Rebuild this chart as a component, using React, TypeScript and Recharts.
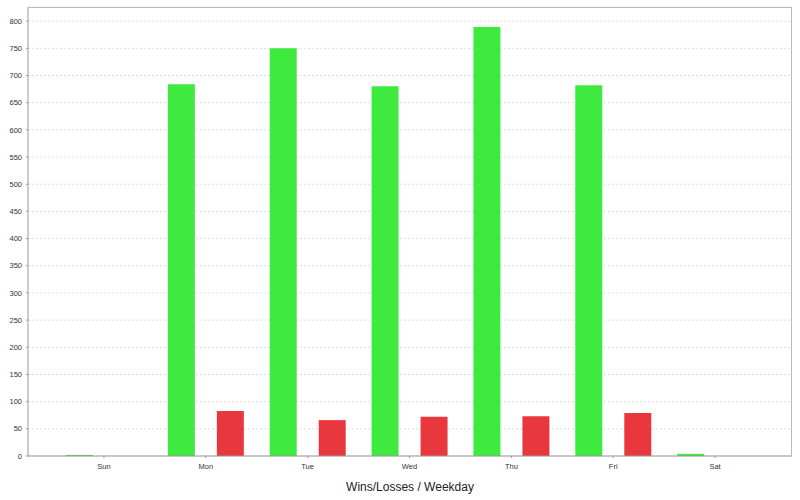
import { BarChart, Bar, XAxis, YAxis, CartesianGrid, Label } from 'recharts'

const days = ['Sun', 'Mon', 'Tue', 'Wed', 'Thu', 'Fri', 'Sat']
const wins = [2, 684, 750, 680, 789, 682, 4]
const losses = [0, 83, 66, 72, 73, 79, 0]
const yTicks = [0, 50, 100, 150, 200, 250, 300, 350, 400, 450, 500, 550, 600, 650, 700, 750, 800]

const data = days.map((day, i) => ({ day, wins: wins[i], losses: losses[i] }))

const tickStyle = { fontSize: 7.5, fill: '#333', fontFamily: '"Liberation Sans", Arial, sans-serif' }

export default function App() {
  return (
    <div style={{ position: 'absolute', left: 0, top: 0, width: 800, height: 500, background: '#fff' }}>
      <BarChart
        width={800}
        height={500}
        data={data}
        margin={{ top: 7, right: 8, left: 0, bottom: 0 }}
        barCategoryGap={13}
        barGap={22}
      >
        <CartesianGrid vertical={false} stroke="#dcdcdc" strokeDasharray="2 2" />
        <XAxis
          dataKey="day"
          height={44}
          padding={{ left: 25, right: 26 }}
          tick={tickStyle}
          tickSize={2}
          tickMargin={6}
          stroke="#999"
          interval={0}
        >
          <Label
            value="Wins/Losses / Weekday"
            position="insideBottom"
            offset={9}
            style={{ fontSize: 12, fill: '#222', fontFamily: '"Liberation Sans", Arial, sans-serif' }}
          />
        </XAxis>
        <YAxis
          width={28}
          domain={[0, 826]}
          ticks={yTicks}
          interval={0}
          tick={tickStyle}
          tickSize={2}
          tickMargin={4}
          stroke="#999"
          allowDataOverflow
        />
        <Bar dataKey="wins" fill="#3eea3e" isAnimationActive={false} />
        <Bar dataKey="losses" fill="#e8383d" isAnimationActive={false} />
      </BarChart>
      <div
        style={{
          position: 'absolute',
          left: 28,
          top: 7,
          width: 764,
          height: 449,
          borderTop: '1px solid #bbb',
          borderRight: '1px solid #bbb',
          boxSizing: 'border-box',
          pointerEvents: 'none',
        }}
      />
    </div>
  )
}
